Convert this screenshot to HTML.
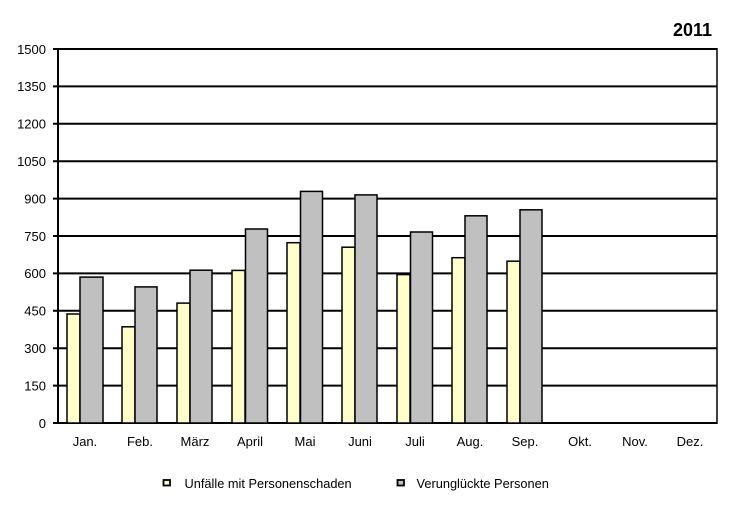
<!DOCTYPE html>
<html><head><meta charset="utf-8"><style>
html,body{margin:0;padding:0;background:#fff;}
svg{display:block;font-family:"Liberation Sans",Arial,sans-serif;}
</style></head><body>
<svg width="740" height="511" viewBox="0 0 740 511" xmlns="http://www.w3.org/2000/svg">
<rect width="740" height="511" fill="#fff"/>
<text x="712" y="36" font-size="18" font-weight="bold" text-anchor="end" fill="#000">2011</text>
<!-- gridlines -->
<g stroke="#000" stroke-width="2">
<line x1="53" y1="49" x2="717" y2="49"/>
<line x1="53" y1="86.4" x2="717" y2="86.4"/>
<line x1="53" y1="123.8" x2="717" y2="123.8"/>
<line x1="53" y1="161.2" x2="717" y2="161.2"/>
<line x1="53" y1="198.6" x2="717" y2="198.6"/>
<line x1="53" y1="236" x2="717" y2="236"/>
<line x1="53" y1="273.4" x2="717" y2="273.4"/>
<line x1="53" y1="310.8" x2="717" y2="310.8"/>
<line x1="53" y1="348.2" x2="717" y2="348.2"/>
<line x1="53" y1="385.6" x2="717" y2="385.6"/>
<line x1="53" y1="423" x2="717" y2="423"/>
</g>
<line x1="58" y1="48" x2="58" y2="424" stroke="#000" stroke-width="2"/>
<line x1="717" y1="48" x2="717" y2="424" stroke="#000" stroke-width="1.5"/>
<!-- y labels -->
<g font-size="13" text-anchor="end" fill="#000">
<text x="46" y="54">1500</text>
<text x="46" y="91">1350</text>
<text x="46" y="128.5">1200</text>
<text x="46" y="166">1050</text>
<text x="46" y="203.5">900</text>
<text x="46" y="241">750</text>
<text x="46" y="278">600</text>
<text x="46" y="315.5">450</text>
<text x="46" y="353">300</text>
<text x="46" y="390.5">150</text>
<text x="46" y="428">0</text>
</g>
<!-- bars -->
<g stroke="#000" stroke-width="1.5">
<rect x="67" y="314.0" width="13" height="109" fill="#FFFFCC"/>
<rect x="80" y="277.1" width="23" height="145.9" fill="#C0C0C0"/>
<rect x="122" y="326.8" width="13" height="96.2" fill="#FFFFCC"/>
<rect x="135" y="286.9" width="22" height="136.1" fill="#C0C0C0"/>
<rect x="177" y="303.1" width="13" height="119.9" fill="#FFFFCC"/>
<rect x="190" y="270.2" width="22" height="152.8" fill="#C0C0C0"/>
<rect x="232" y="270.4" width="13" height="152.6" fill="#FFFFCC"/>
<rect x="245.5" y="229.0" width="22" height="194" fill="#C0C0C0"/>
<rect x="287" y="242.7" width="13" height="180.3" fill="#FFFFCC"/>
<rect x="300.5" y="191.4" width="22" height="231.6" fill="#C0C0C0"/>
<rect x="342" y="247.2" width="13" height="175.8" fill="#FFFFCC"/>
<rect x="355" y="194.9" width="22" height="228.1" fill="#C0C0C0"/>
<rect x="397" y="274.6" width="13" height="148.4" fill="#FFFFCC"/>
<rect x="410.5" y="232.0" width="22" height="191" fill="#C0C0C0"/>
<rect x="452" y="257.7" width="13" height="165.3" fill="#FFFFCC"/>
<rect x="465" y="215.8" width="22" height="207.2" fill="#C0C0C0"/>
<rect x="507" y="261.2" width="13" height="161.8" fill="#FFFFCC"/>
<rect x="520" y="209.8" width="22" height="213.2" fill="#C0C0C0"/>
</g>
<!-- x labels -->
<g font-size="13" text-anchor="middle" fill="#000">
<text x="85" y="446">Jan.</text>
<text x="140" y="446">Feb.</text>
<text x="195" y="446">März</text>
<text x="250" y="446">April</text>
<text x="305" y="446">Mai</text>
<text x="360" y="446">Juni</text>
<text x="415" y="446">Juli</text>
<text x="470" y="446">Aug.</text>
<text x="525" y="446">Sep.</text>
<text x="580" y="446">Okt.</text>
<text x="635" y="446">Nov.</text>
<text x="690" y="446">Dez.</text>
</g>
<!-- legend -->
<rect x="163.5" y="480" width="6.5" height="5.5" fill="#FFFFCC" stroke="#000" stroke-width="1.8"/>
<text x="184.5" y="488" font-size="12.8" fill="#000">Unfälle mit Personenschaden</text>
<rect x="397.5" y="480" width="6.5" height="5.5" fill="#C0C0C0" stroke="#000" stroke-width="1.8"/>
<text x="416.5" y="488" font-size="12.8" fill="#000">Verunglückte Personen</text>
</svg>
</body></html>
